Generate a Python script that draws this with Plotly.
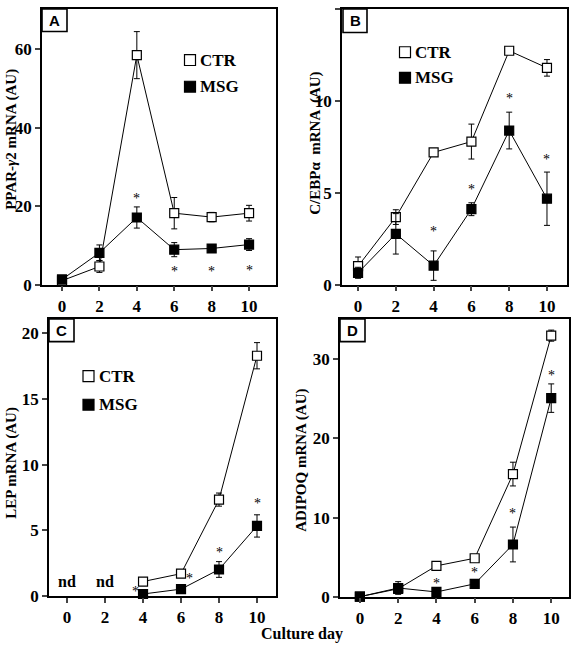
import plotly.graph_objects as go

W, H = 572, 651
def fx(p): return p / W
def fy(p): return 1 - p / H

days = [0, 2, 4, 6, 8, 10]

# Panel A: PPAR-gamma2
a_ctr = [1.0, 4.6, 58.5, 18.2, 17.2, 18.2]
a_ctr_err = [0.5, 1.5, 6.0, 4.0, 1.2, 2.0]
a_msg = [1.3, 8.1, 17.1, 8.9, 9.2, 10.2]
a_msg_err = [0.5, 2.0, 2.7, 1.8, 0.9, 1.5]
a_star_x = [4, 6, 8, 10]
a_star_y = [22.0, 3.3, 3.3, 3.5]

# Panel B: C/EBPalpha
b_ctr = [1.0, 3.67, 7.19, 7.78, 12.72, 11.79]
b_ctr_err = [0.5, 0.4, 0.1, 0.95, 0.2, 0.45]
b_msg = [0.64, 2.76, 1.03, 4.1, 8.38, 4.67]
b_msg_err = [0.3, 1.1, 0.8, 0.35, 1.0, 1.45]
b_star_x = [4, 6, 8, 10]
b_star_y = [2.9, 5.15, 10.1, 6.8]

# Panel C: LEP (nd at day 0 and 2)
c_days = [4, 6, 8, 10]
c_ctr = [1.08, 1.68, 7.33, 18.3]
c_ctr_err = [0.3, 0.2, 0.5, 1.0]
c_msg = [0.13, 0.5, 2.0, 5.32]
c_msg_err = [0.1, 0.1, 0.6, 0.85]
c_star_x = [3.6, 6.45, 8, 10]
c_star_y = [0.3, 1.3, 3.3, 7.0]
c_nd_x = [0, 2]

# Panel D: ADIPOQ
d_ctr = [0.0, 1.0, 3.9, 4.86, 15.5, 33.0]
d_ctr_err = [0.2, 0.4, 0.3, 0.4, 1.5, 0.7]
d_msg = [0.0, 1.1, 0.6, 1.62, 6.6, 25.1]
d_msg_err = [0.2, 0.8, 0.3, 0.3, 2.2, 1.8]
d_star_x = [4, 6, 8, 10]
d_star_y = [1.7, 3.0, 10.5, 27.9]

xticks = [0, 2, 4, 6, 8, 10]

panels = [
    dict(x=days, ctr=a_ctr, ce=a_ctr_err, msg=a_msg, me=a_msg_err, sx=a_star_x, sy=a_star_y,
         xr=[-1.07, 11.44], yr=[0, 70.3], yt=[0, 20, 40, 60],
         box=(42, 9, 276, 289), label="A", lab=(42, 9, 67, 32),
         title="PPAR-<i>γ</i>2 mRNA (AU)", tpos=(12, 142),
         leg=(190, 61, 88)),
    dict(x=days, ctr=b_ctr, ce=b_ctr_err, msg=b_msg, me=b_msg_err, sx=b_star_x, sy=b_star_y,
         xr=[-0.85, 11.06], yr=[0, 15], yt=[0, 5, 10, 15],
         box=(342, 9, 567, 289), label="B", lab=(343, 9, 367, 33),
         title="C/EBPα  mRNA  (AU)", tpos=(316, 145),
         leg=(405, 53, 79)),
    dict(x=c_days, ctr=c_ctr, ce=c_ctr_err, msg=c_msg, me=c_msg_err, sx=c_star_x, sy=c_star_y,
         xr=[-0.95, 11.0], yr=[0, 21.1], yt=[0, 5, 10, 15, 20],
         box=(49, 324, 276, 605), label="C", lab=(49, 324, 74, 347),
         title="LEP mRNA (AU)", tpos=(12, 470),
         leg=(88.5, 382, 411)),
    dict(x=days, ctr=d_ctr, ce=d_ctr_err, msg=d_msg, me=d_msg_err, sx=d_star_x, sy=d_star_y,
         xr=[-1.04, 10.93], yr=[0, 35.1], yt=[0, 10, 20, 30],
         box=(340, 324, 569, 606), label="D", lab=(340, 324, 365, 347),
         title="ADIPOQ mRNA (AU)", tpos=(302, 468),
         leg=None),
]

serif = "Liberation Serif"
sans = "Liberation Sans"
fig = go.Figure()
shapes = []
annotations = []
layout = {}

for i, p in enumerate(panels):
    n = "" if i == 0 else str(i + 1)
    xa, ya = "x" + n, "y" + n
    x0, y0, x1, y1 = p["box"]
    layout["xaxis" + n] = dict(domain=[fx(x0), fx(x1)], range=p["xr"], anchor=ya,
                               tickvals=xticks, ticks="outside", ticklen=5, tickwidth=1.5,
                               showline=True, mirror=True, linewidth=1.6, linecolor="black",
                               showgrid=False, zeroline=False,
                               tickfont=dict(family=serif, size=17, color="black", weight="bold"))
    layout["yaxis" + n] = dict(domain=[fy(y1), fy(y0)], range=p["yr"], anchor=xa,
                               tickvals=p["yt"], ticks="outside", ticklen=5, tickwidth=1.5,
                               showline=True, mirror=True, linewidth=1.6, linecolor="black",
                               showgrid=False, zeroline=False,
                               tickfont=dict(family=serif, size=17, color="black", weight="bold"))
    for name, vals, err, fill in [("CTR", p["ctr"], p["ce"], "white"), ("MSG", p["msg"], p["me"], "black")]:
        fig.add_trace(go.Scatter(x=p["x"], y=vals, mode="lines", xaxis=xa, yaxis=ya,
                                 line=dict(color="black", width=1), showlegend=False,
                                 cliponaxis=False, hoverinfo="skip"))
        fig.add_trace(go.Scatter(x=p["x"], y=vals, mode="markers", name=name, xaxis=xa, yaxis=ya,
                                 marker=dict(symbol="square", size=9, color=fill,
                                             line=dict(color="black", width=1.2)),
                                 error_y=dict(type="data", array=err, visible=True,
                                              color="black", thickness=1, width=3),
                                 showlegend=False, cliponaxis=False))
    for sx, sy in zip(p["sx"], p["sy"]):
        annotations.append(dict(x=sx, y=sy, xref=xa, yref=ya, text="*", showarrow=False,
                                font=dict(family=serif, size=14, color="black")))
    lx0, ly0, lx1, ly1 = p["lab"]
    shapes.append(dict(type="rect", xref="paper", yref="paper", x0=fx(lx0), x1=fx(lx1),
                       y0=fy(ly1), y1=fy(ly0), line=dict(color="black", width=1.6),
                       fillcolor="white"))
    annotations.append(dict(x=fx((lx0 + lx1) / 2), y=fy((ly0 + ly1) / 2), xref="paper", yref="paper",
                            text=p["label"], showarrow=False, xanchor="center", yanchor="middle",
                            font=dict(family=sans, size=15, color="black", weight="bold")))
    tx, ty = p["tpos"]
    annotations.append(dict(x=fx(tx), y=fy(ty), xref="paper", yref="paper", text=p["title"],
                            textangle=-90, showarrow=False, xanchor="center", yanchor="middle",
                            font=dict(family=serif, size=15, color="black", weight="bold")))
    if p["leg"]:
        cx, cy1, cy2 = p["leg"]
        for cy, fill, txt in [(cy1, "white", "CTR"), (cy2, "black", "MSG")]:
            shapes.append(dict(type="rect", xref="paper", yref="paper",
                               x0=fx(cx - 5.5), x1=fx(cx + 5.5), y0=fy(cy + 5.5), y1=fy(cy - 5.5),
                               line=dict(color="black", width=1.2), fillcolor=fill))
            annotations.append(dict(x=fx(cx + 8), y=fy(cy), xref="paper", yref="paper", text=txt,
                                    showarrow=False, xanchor="left", yanchor="middle",
                                    font=dict(family=serif, size=17, color="black", weight="bold")))

for ndx in c_nd_x:
    annotations.append(dict(x=ndx, y=1.1, xref="x3", yref="y3", text="nd", showarrow=False,
                            font=dict(family=serif, size=16, color="black", weight="bold")))

annotations.append(dict(x=fx(302), y=fy(654), xref="paper", yref="paper", text="Culture day",
                        showarrow=False, xanchor="center", yanchor="bottom", borderpad=0,
                        font=dict(family=serif, size=16, color="black", weight="bold")))

fig.update_layout(width=W, height=H, margin=dict(l=0, r=0, t=0, b=0),
                  paper_bgcolor="white", plot_bgcolor="white", showlegend=False,
                  shapes=shapes, annotations=annotations, **layout)

fig.write_html("out.html", config={"displayModeBar": False},
               post_script="document.body.style.margin='0px';document.body.style.overflow='hidden';document.documentElement.style.overflow='hidden';")
